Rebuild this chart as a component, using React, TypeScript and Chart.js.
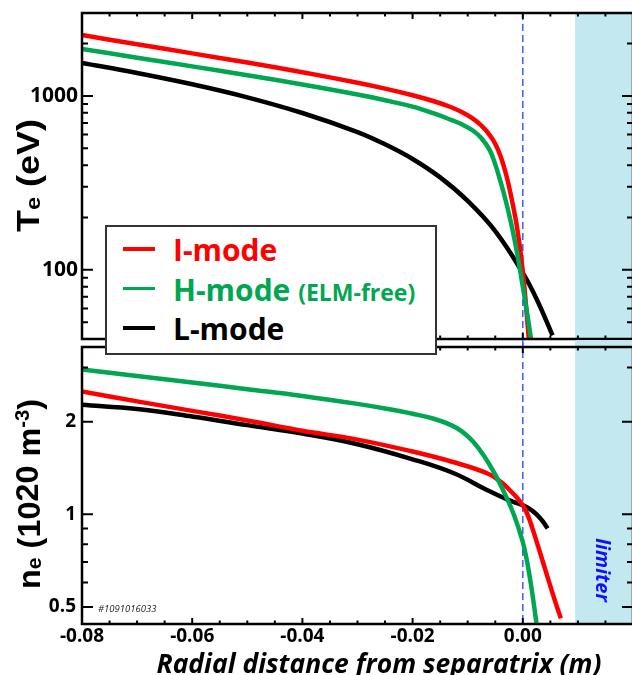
import React, { useEffect, useRef } from "react";
import { Chart, registerables } from "chart.js";

Chart.register(...registerables);

// ---------------- data ----------------
const X_MIN = -0.08;
const X_MAX = 0.02;
const SEPARATRIX_X = 0;
const LIMITER_X = 0.0095;

const X_TICKS = [-0.08, -0.075, -0.07, -0.065, -0.06, -0.055, -0.05, -0.045, -0.04, -0.035, -0.03, -0.025, -0.02, -0.015, -0.01, -0.005, 0, 0.005, 0.01, 0.015, 0.02];
const X_MAJOR_TICKS = [-0.08, -0.06, -0.04, -0.02, 0, 0.02];
const X_LABELED_VALUES = [-0.08, -0.06, -0.04, -0.02, 0];
const X_TICK_LABELS = ["-0.08", "-0.06", "-0.04", "-0.02", "0.00"];

const TE_MIN = 40;
const TE_MAX = 3000;
const TE_TICKS = [40, 50, 60, 70, 80, 90, 100, 200, 300, 400, 500, 600, 700, 800, 900, 1000, 2000, 3000];
const TE_MAJOR_TICKS = [100, 1000];
const TE_TICK_LABELS = ["100", "1000"];

const NE_MIN = 0.44;
const NE_MAX = 3.5;
const NE_TICKS = [0.5, 0.6, 0.7, 0.8, 0.9, 1, 2, 3];
const NE_MAJOR_TICKS = [0.5, 1, 2];
const NE_TICK_LABELS = ["0.5", "1", "2"];

const SERIES_NAMES = ["I-mode", "H-mode", "L-mode"];
const H_MODE_NOTE = "(ELM-free)";
const SHOT_LABEL = "#1091016033";
const LIMITER_LABEL = "limiter";
const X_TITLE = "Radial distance from separatrix (m)";

// Te (eV)
const teIModeX = [-0.08, -0.07, -0.06, -0.05, -0.04, -0.03, -0.025, -0.02, -0.016, -0.013, -0.011, -0.009, -0.0075, -0.006, -0.005, -0.004, -0.003, -0.002, -0.001, 0, 0.0011];
const teIModeY = [2239, 1982, 1758, 1556, 1368, 1191, 1102, 1009, 929, 861, 805, 738, 675, 596, 531, 447, 351, 254, 172, 98, 40];

const teHModeX = [-0.08, -0.07, -0.06, -0.05, -0.04, -0.03, -0.025, -0.02, -0.016, -0.013, -0.011, -0.009, -0.0075, -0.006, -0.005, -0.004, -0.003, -0.002, -0.001, 0, 0.0008, 0.0016];
const teHModeY = [1862, 1660, 1479, 1315, 1164, 1019, 944, 869, 791, 728, 685, 631, 571, 488, 404, 318, 243, 178, 123, 80, 56, 38];

const teLModeX = [-0.08, -0.07, -0.06, -0.05, -0.04, -0.03, -0.025, -0.02, -0.015, -0.01, -0.005, 0, 0.0025, 0.0054];
const teLModeY = [1550, 1355, 1167, 982, 798, 620, 527, 434, 340, 249, 167, 96, 68, 42];

// ne (1e20 m^-3)
const neIModeX = [-0.08, -0.07, -0.06, -0.05, -0.04, -0.03, -0.02, -0.0127, -0.0065, -0.0036, -0.0024, -0.0012, 0, 0.0007, 0.0013, 0.0019, 0.0025, 0.0036, 0.0049, 0.006, 0.0069];
const neIModeY = [2.51, 2.33, 2.17, 2.02, 1.87, 1.75, 1.6, 1.48, 1.36, 1.26, 1.2, 1.14, 1.07, 1.014, 0.951, 0.883, 0.817, 0.705, 0.592, 0.513, 0.459];

const neHModeX = [-0.08, -0.07, -0.06, -0.05, -0.04, -0.03, -0.025, -0.02, -0.016, -0.013, -0.011, -0.009, -0.007, -0.005, -0.003, -0.0015, 0, 0.0008, 0.0016, 0.0025];
const neHModeY = [2.958, 2.818, 2.685, 2.553, 2.427, 2.286, 2.208, 2.123, 2.042, 1.95, 1.858, 1.722, 1.545, 1.346, 1.14, 0.984, 0.813, 0.698, 0.573, 0.44];

const neLModeX = [-0.08, -0.07, -0.06, -0.05, -0.04, -0.03, -0.02, -0.0125, -0.0065, -0.0024, 0, 0.0013, 0.0025, 0.0036, 0.0045];
const neLModeY = [2.27, 2.2, 2.08, 1.95, 1.83, 1.69, 1.51, 1.36, 1.2, 1.11, 1.07, 1.04, 1.0, 0.95, 0.9];

// ---------------- style ----------------
const RED = "#ff0000";
const GREEN = "#00a651";
const BLACK = "#000000";
const LIMITER_FILL = "#c3e8f0";
const SEP_COLOR = "#3d5cff";
const LIMITER_TEXT = "#1010ff";
const TICK_FONT = "Open Sans";
const TITLE_FONT = "'Liberation Sans', Arial, sans-serif";

const W = 634;
const TOP_H = 345;
const BOT_TOP = 340;
const BOT_H = 335;

const near = (a: number, b: number) => Math.abs(a - b) < 1e-9;
const toPoints = (xs: number[], ys: number[]) => xs.map((x, i) => ({ x, y: ys[i] }));

type Seg = { text: string; font: string; dy: number };

function drawFitted(ctx: CanvasRenderingContext2D, segs: Seg[], x: number, y: number, rot: number, target: number, center: boolean, color: string) {
  ctx.save();
  let total = 0;
  const widths = segs.map((s) => {
    ctx.font = s.font;
    const w = ctx.measureText(s.text).width;
    total += w;
    return w;
  });
  const sc = target / total;
  ctx.translate(x, y);
  ctx.rotate(rot);
  ctx.scale(sc, 1);
  ctx.fillStyle = color;
  ctx.textBaseline = "alphabetic";
  ctx.textAlign = "left";
  let cx = center ? -total / 2 : 0;
  segs.forEach((s, i) => {
    ctx.font = s.font;
    ctx.fillText(s.text, cx, s.dy);
    cx += widths[i];
  });
  ctx.restore();
}

function makePanelPlugin(cfg: {
  extendUp: boolean;
  extendDown: boolean;
  yTicks: number[];
  yMajor: number[];
  decorate: (chart: any) => void;
}) {
  return {
    id: "panel",
    beforeDatasetsDraw(chart: any) {
      const { ctx, chartArea: a } = chart;
      const xs = chart.scales.x;
      const top = cfg.extendUp ? 0 : a.top;
      const bottom = cfg.extendDown ? chart.height : a.bottom;
      const lx = xs.getPixelForValue(LIMITER_X);
      const rx = xs.getPixelForValue(X_MAX);
      ctx.save();
      ctx.fillStyle = LIMITER_FILL;
      ctx.fillRect(lx, top, rx - lx + 3, bottom - top);
      const sx = xs.getPixelForValue(SEPARATRIX_X);
      ctx.strokeStyle = SEP_COLOR;
      ctx.lineWidth = 1.5;
      ctx.setLineDash([7, 4]);
      ctx.beginPath();
      ctx.moveTo(sx, top);
      ctx.lineTo(sx, bottom);
      ctx.stroke();
      ctx.restore();
    },
    afterDatasetsDraw(chart: any) {
      const { ctx, chartArea: a } = chart;
      const xs = chart.scales.x;
      const ys = chart.scales.y;
      ctx.save();
      ctx.strokeStyle = BLACK;
      ctx.lineWidth = 2;
      ctx.beginPath();
      X_TICKS.forEach((v) => {
        const px = xs.getPixelForValue(v);
        const len = X_MAJOR_TICKS.some((m) => near(m, v)) ? 6 : 3.5;
        ctx.moveTo(px, a.top);
        ctx.lineTo(px, a.top + len);
        ctx.moveTo(px, a.bottom);
        ctx.lineTo(px, a.bottom - len);
      });
      cfg.yTicks.forEach((v) => {
        const py = ys.getPixelForValue(v);
        const len = cfg.yMajor.some((m) => near(m, v)) ? 11 : 6;
        ctx.moveTo(a.left, py);
        ctx.lineTo(a.left + len, py);
        ctx.moveTo(a.right, py);
        ctx.lineTo(a.right - len, py);
      });
      ctx.stroke();
      ctx.lineWidth = 2.5;
      ctx.strokeRect(a.left, a.top, a.right - a.left, a.bottom - a.top);
      ctx.restore();
    },
    afterDraw(chart: any) {
      cfg.decorate(chart);
    },
  };
}

function xScale(showLabels: boolean) {
  return {
    type: "linear" as const,
    min: X_MIN,
    max: X_MAX,
    display: showLabels,
    afterBuildTicks: (s: any) => {
      s.ticks = X_TICKS.map((v) => ({ value: v }));
    },
    afterFit: (s: any) => {
      if (showLabels) s.height = 51;
      s.paddingLeft = 0;
      s.paddingRight = 0;
      s.paddingTop = 0;
      s.paddingBottom = 0;
    },
    grid: { display: false, drawTicks: false, tickLength: 0 },
    border: { display: false },
    ticks: {
      autoSkip: false,
      maxRotation: 0,
      minRotation: 0,
      padding: 1,
      color: BLACK,
      font: { family: TICK_FONT, weight: "bold" as const, size: 19 },
      callback: (v: any) => {
        const i = X_LABELED_VALUES.findIndex((m) => near(m, Number(v)));
        return i >= 0 ? X_TICK_LABELS[i] : "";
      },
    },
  };
}

function yScale(min: number, max: number, ticks: number[], major: number[], labels: string[], size: number, padding: number) {
  return {
    type: "logarithmic" as const,
    min,
    max,
    afterBuildTicks: (s: any) => {
      s.ticks = ticks.map((v) => ({ value: v }));
    },
    afterFit: (s: any) => {
      s.width = 82;
      s.paddingLeft = 0;
      s.paddingRight = 0;
      s.paddingTop = 0;
      s.paddingBottom = 0;
    },
    grid: { display: false, drawTicks: false, tickLength: 0 },
    border: { display: false },
    ticks: {
      autoSkip: false,
      padding,
      color: BLACK,
      font: { family: TICK_FONT, weight: "bold" as const, size },
      callback: (v: any) => {
        const i = major.findIndex((m) => near(m, Number(v)));
        return i >= 0 ? labels[i] : "";
      },
    },
  };
}

function datasets(iX: number[], iY: number[], hX: number[], hY: number[], lX: number[], lY: number[]) {
  const common = { borderWidth: 4.5, pointRadius: 0, fill: false, tension: 0.4, borderJoinStyle: "round" as const };
  return [
    { label: SERIES_NAMES[1], data: toPoints(hX, hY), borderColor: GREEN, ...common },
    { label: SERIES_NAMES[0], data: toPoints(iX, iY), borderColor: RED, ...common },
    { label: SERIES_NAMES[2], data: toPoints(lX, lY), borderColor: BLACK, ...common },
  ];
}

export default function App() {
  const topRef = useRef<HTMLCanvasElement>(null);
  const botRef = useRef<HTMLCanvasElement>(null);

  useEffect(() => {
    const topPlugin = makePanelPlugin({
      extendUp: false,
      extendDown: true,
      yTicks: TE_TICKS,
      yMajor: TE_MAJOR_TICKS,
      decorate: (chart) => {
        const ctx = chart.ctx as CanvasRenderingContext2D;
        const big = `bold 32px ${TITLE_FONT}`;
        const small = `bold 21px ${TITLE_FONT}`;
        drawFitted(
          ctx,
          [
            { text: "T", font: big, dy: 0 },
            { text: "e", font: small, dy: 1 },
            { text: " (eV)", font: big, dy: 0 },
          ],
          39,
          232,
          -Math.PI / 2,
          113,
          false,
          BLACK
        );
      },
    });

    const botPlugin = makePanelPlugin({
      extendUp: true,
      extendDown: false,
      yTicks: NE_TICKS,
      yMajor: NE_MAJOR_TICKS,
      decorate: (chart) => {
        const ctx = chart.ctx as CanvasRenderingContext2D;
        const a = chart.chartArea;
        const big = `bold 32px ${TITLE_FONT}`;
        const small = `bold 21px ${TITLE_FONT}`;
        const sup = `bold 20px ${TITLE_FONT}`;
        drawFitted(
          ctx,
          [
            { text: "n", font: big, dy: 0 },
            { text: "e", font: small, dy: 1 },
            { text: " (10", font: big, dy: 0 },
            { text: "20", font: big, dy: -2 },
            { text: " m", font: big, dy: 0 },
            { text: "-3", font: sup, dy: -11 },
            { text: ")", font: big, dy: 0 },
          ],
          40,
          589 - BOT_TOP,
          -Math.PI / 2,
          190,
          false,
          BLACK
        );
        // x-axis title
        drawFitted(
          ctx,
          [{ text: X_TITLE, font: `italic bold 26px '${TICK_FONT}'`, dy: 0 }],
          379,
          673 - BOT_TOP,
          0,
          445,
          true,
          BLACK
        );
        // shot number
        ctx.save();
        ctx.font = `italic 9.5px '${TICK_FONT}'`;
        ctx.fillStyle = "#222";
        ctx.textAlign = "left";
        ctx.textBaseline = "alphabetic";
        ctx.fillText(SHOT_LABEL, a.left + 16, a.bottom - 12.5);
        ctx.restore();
        // limiter label
        const lx = chart.scales.x.getPixelForValue(LIMITER_X);
        ctx.save();
        ctx.translate(lx + 21, a.bottom - 54);
        ctx.rotate(Math.PI / 2);
        ctx.font = `italic bold 20px '${TICK_FONT}'`;
        ctx.fillStyle = LIMITER_TEXT;
        ctx.textAlign = "center";
        ctx.textBaseline = "alphabetic";
        ctx.fillText(LIMITER_LABEL, 0, 0);
        ctx.restore();
      },
    });

    const top = new Chart(topRef.current!, {
      type: "line",
      data: { datasets: datasets(teIModeX, teIModeY, teHModeX, teHModeY, teLModeX, teLModeY) as any },
      options: {
        responsive: false,
        animation: false,
        devicePixelRatio: 1,
        layout: { padding: { top: 13, right: 1, bottom: 6, left: 0 } },
        plugins: { legend: { display: false }, tooltip: { enabled: false } },
        scales: {
          x: xScale(false) as any,
          y: yScale(TE_MIN, TE_MAX, TE_TICKS, TE_MAJOR_TICKS, TE_TICK_LABELS, 21, 4) as any,
        },
      },
      plugins: [topPlugin as any],
    });

    const bot = new Chart(botRef.current!, {
      type: "line",
      data: { datasets: datasets(neIModeX, neIModeY, neHModeX, neHModeY, neLModeX, neLModeY) as any },
      options: {
        responsive: false,
        animation: false,
        devicePixelRatio: 1,
        layout: { padding: { top: 7, right: 1, bottom: 0, left: 0 } },
        plugins: { legend: { display: false }, tooltip: { enabled: false } },
        scales: {
          x: xScale(true) as any,
          y: yScale(NE_MIN, NE_MAX, NE_TICKS, NE_MAJOR_TICKS, NE_TICK_LABELS, 19, 6) as any,
        },
      },
      plugins: [botPlugin as any],
    });

    return () => {
      top.destroy();
      bot.destroy();
    };
  }, []);

  const legendText: React.CSSProperties = {
    position: "absolute",
    left: 66,
    fontFamily: "'Open Sans', sans-serif",
    fontWeight: 700,
    fontSize: 30,
    lineHeight: "30px",
    whiteSpace: "nowrap",
  };
  const legendLine = (color: string, top: number, h: number): React.CSSProperties => ({
    position: "absolute",
    left: 16,
    top,
    width: 32,
    height: h,
    background: color,
  });

  return (
    <div style={{ position: "fixed", left: 0, top: 0, width: 632, height: 675, overflow: "hidden", background: "#fff" }}>
      <canvas ref={topRef} width={W} height={TOP_H} style={{ position: "absolute", left: 0, top: 0, width: W, height: TOP_H }} />
      <canvas ref={botRef} width={W} height={BOT_H} style={{ position: "absolute", left: 0, top: BOT_TOP, width: W, height: BOT_H }} />
      <div
        style={{
          position: "absolute",
          left: 105,
          top: 225,
          width: 332,
          height: 130,
          boxSizing: "border-box",
          border: "2px solid #333",
          background: "#fff",
        }}
      >
        <div style={legendLine(RED, 20, 4)} />
        <div style={{ ...legendText, top: 8, color: RED }}>{SERIES_NAMES[0]}</div>
        <div style={legendLine(GREEN, 59.5, 3)} />
        <div style={{ ...legendText, top: 47.5, color: GREEN }}>
          {SERIES_NAMES[1]} <span style={{ fontSize: 23 }}>{H_MODE_NOTE}</span>
        </div>
        <div style={legendLine(BLACK, 99, 4)} />
        <div style={{ ...legendText, top: 86.5, color: BLACK }}>{SERIES_NAMES[2]}</div>
      </div>
    </div>
  );
}
